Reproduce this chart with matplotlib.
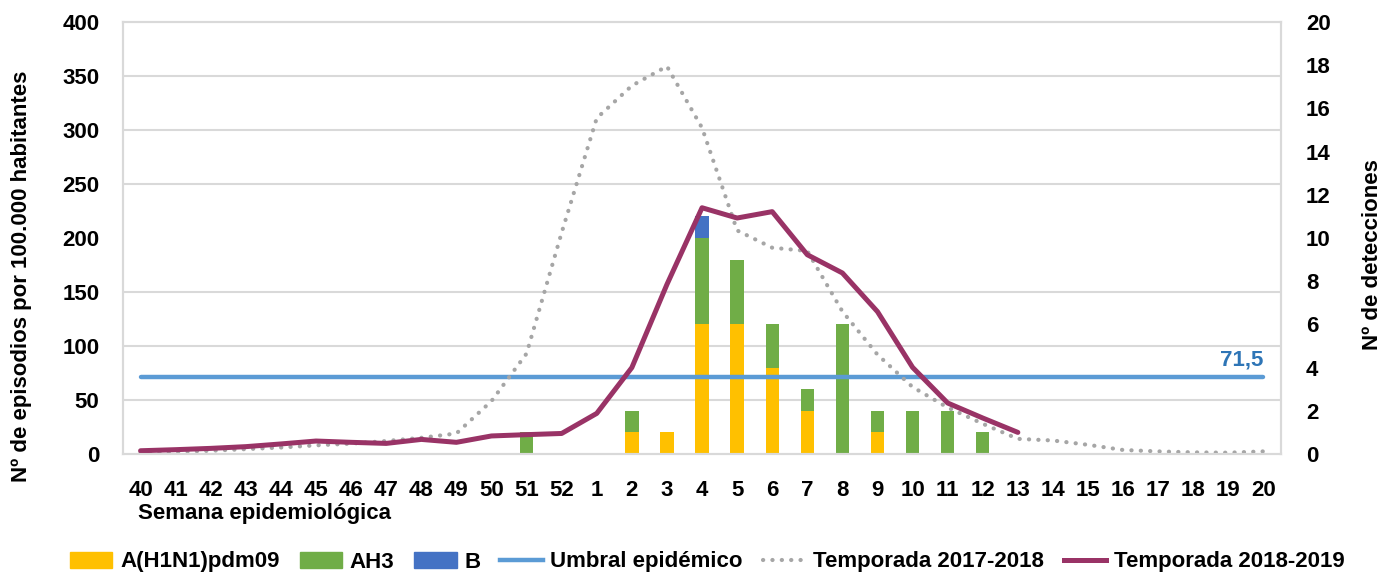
# gripe: episodios por 100.000 habitantes y detecciones por semana
import numpy as np
import matplotlib
matplotlib.use("Agg")
import matplotlib.pyplot as plt
from matplotlib.patches import Patch
from matplotlib.lines import Line2D

plt.rcParams['font.family'] = ['Liberation Sans', 'DejaVu Sans']
plt.rcParams['font.weight'] = 'bold'

# semanas epidemiologicas (40 a 20)
semanas = ['40', '41', '42', '43', '44', '45', '46', '47', '48', '49', '50', '51', '52',
           '1', '2', '3', '4', '5', '6', '7', '8', '9', '10', '11', '12', '13', '14',
           '15', '16', '17', '18', '19', '20']

# detecciones (eje derecho)
h1n1 = [0, 0, 0, 0, 0, 0, 0, 0, 0, 0, 0, 0, 0, 0, 1, 1, 6, 6, 4, 2, 0, 1, 0, 0, 0, 0, 0, 0, 0, 0, 0, 0, 0]
ah3 = [0, 0, 0, 0, 0, 0, 0, 0, 0, 0, 0, 1, 0, 0, 1, 0, 4, 3, 2, 1, 6, 1, 2, 2, 1, 0, 0, 0, 0, 0, 0, 0, 0]
tipo_b = [0, 0, 0, 0, 0, 0, 0, 0, 0, 0, 0, 0, 0, 0, 0, 0, 1, 0, 0, 0, 0, 0, 0, 0, 0, 0, 0, 0, 0, 0, 0, 0, 0]

# tasas (eje izquierdo)
umbral = 71.5
temp_1718 = [1.5, 2, 3, 4.5, 6, 8, 9.6, 12, 15, 19, 49, 93, 205, 311, 341, 359, 302, 207,
             191, 188, 132, 92, 62, 43, 28, 14, 12.5, 8.5, 3.7, 2.4, 1.5, 1.2, 2.4]
temp_1819 = [3, 4, 5.2, 6.8, 9.3, 12, 10.8, 9.8, 13.5, 10.8, 16.7, 17.9, 19, 37.6, 80, 157,
             228, 218.5, 224.4, 184.5, 167.6, 131.8, 80.2, 47.2, 33.3, 20]

x = np.arange(len(semanas))
h1n1 = np.array(h1n1)
ah3 = np.array(ah3)
tipo_b = np.array(tipo_b)

c_h1 = '#FFC000'
c_h3 = '#70AD47'
c_b = '#4472C4'
c_umb = '#5B9BD5'
c_1718 = '#A6A6A6'
c_1819 = '#993366'
c_grid = '#D9D9D9'
fs = 16

fig = plt.figure(figsize=(13.87, 5.73), dpi=100)
ax_b = fig.add_axes([0.0887, 0.2077, 0.9236 - 0.0887, 0.9616 - 0.2077])
ax_l = ax_b.twinx()

# barras apiladas (detecciones)
w = 0.38
ax_b.bar(x, h1n1, w, color=c_h1, zorder=2)
ax_b.bar(x, ah3, w, bottom=h1n1, color=c_h3, zorder=2)
ax_b.bar(x, tipo_b, w, bottom=h1n1 + ah3, color=c_b, zorder=2)

# lineas (tasas)
ax_l.plot(x, [umbral] * len(x), color=c_umb, lw=3.2, solid_capstyle='round')
ax_l.plot(x, temp_1718, color=c_1718, lw=3, linestyle=(0, (0.05, 2.2)), dash_capstyle='round')
ax_l.plot(x[:len(temp_1819)], temp_1819, color=c_1819, lw=3.6, solid_capstyle='round')
ax_l.text(x[-1], umbral + 6, '71,5', color='#2E75B6', fontsize=fs, fontweight='bold',
          ha='right', va='bottom')

# ejes
ax_b.set_xlim(-0.5, len(x) - 0.5)
ax_b.set_ylim(0, 20)
ax_l.set_ylim(0, 400)
ax_b.yaxis.tick_right()
ax_l.yaxis.tick_left()
ax_b.set_yticks(np.arange(0, 21, 2))
ax_b.set_yticks(np.arange(0, 20.1, 2.5), minor=True)
ax_b.grid(which='minor', axis='y', color=c_grid, lw=1.5, zorder=0)
ax_b.set_axisbelow(True)
ax_l.set_yticks(np.arange(0, 401, 50))
ax_b.set_xticks(x)
ax_b.set_xticklabels(semanas)

ax_b.tick_params(axis='x', length=0, pad=19, labelsize=fs)
ax_b.tick_params(axis='y', which='both', length=0, pad=18, labelsize=fs)
ax_l.tick_params(axis='y', length=0, pad=17, labelsize=fs)
for a in (ax_b, ax_l):
    for s in a.spines.values():
        s.set_color(c_grid)
        s.set_linewidth(1.5)

fig.text(138 / 1387, 1 - 514 / 573, 'Semana epidemiológica', fontsize=fs, fontweight='bold',
         ha='left', va='center')
fig.text(22 / 1387, 1 - 276 / 573, 'Nº de episodios por 100.000 habitantes', fontsize=fs,
         fontweight='bold', rotation=90, ha='center', va='center')
fig.text(1373 / 1387, 1 - 255 / 573, 'Nº de detecciones', fontsize=fs,
         fontweight='bold', rotation=90, ha='center', va='center')

handles = [Patch(color=c_h1), Patch(color=c_h3), Patch(color=c_b),
           Line2D([], [], color=c_umb, lw=3.2),
           Line2D([], [], color=c_1718, lw=3, linestyle=(0, (0.05, 2.2)), dash_capstyle='round'),
           Line2D([], [], color=c_1819, lw=3.6)]
labels = ['A(H1N1)pdm09', 'AH3', 'B', 'Umbral epidémico', 'Temporada 2017-2018', 'Temporada 2018-2019']
fig.legend(handles, labels, loc='center', bbox_to_anchor=(0.51, 1 - 562 / 573), ncol=6,
           frameon=False, fontsize=fs, handlelength=1.9, handleheight=0.7, columnspacing=0.9,
           handletextpad=0.35)

plt.savefig('out.png', dpi=100)
